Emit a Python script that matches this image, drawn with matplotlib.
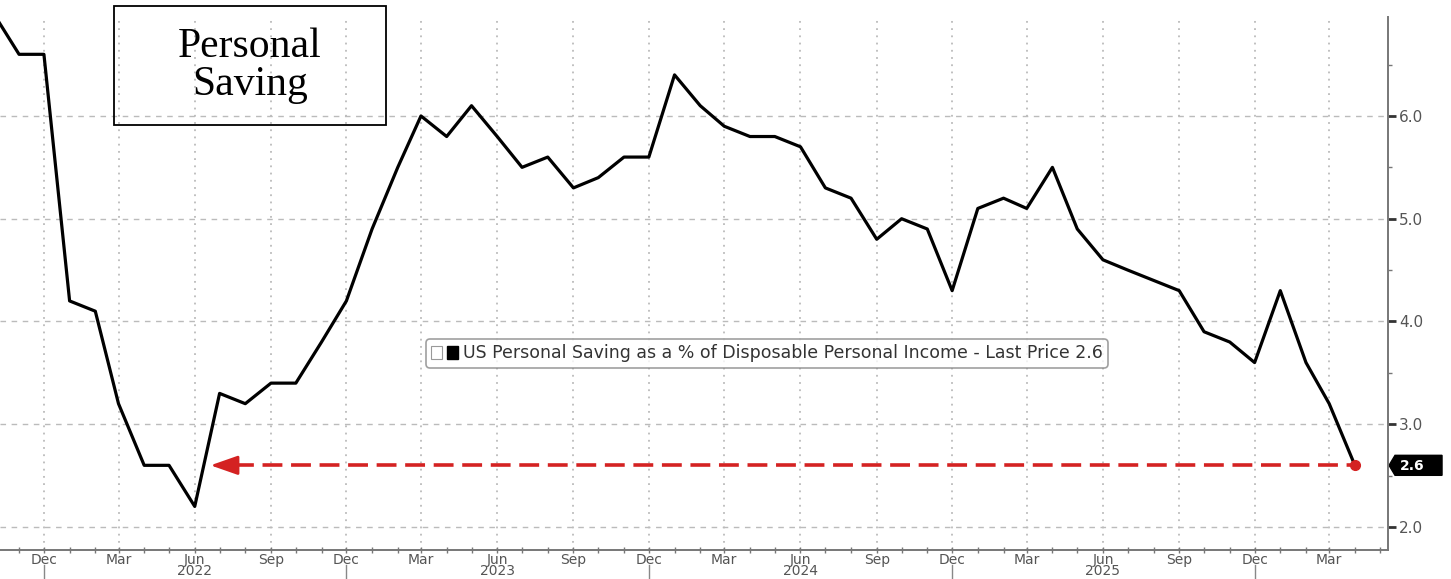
import matplotlib
matplotlib.use("Agg")
import matplotlib.pyplot as plt
import matplotlib.dates as mdates
import matplotlib.transforms as mtransforms
from matplotlib.patches import Rectangle, Patch, Polygon
from matplotlib.legend_handler import HandlerTuple
import pandas as pd

# US personal saving rate, % of disposable personal income, monthly Oct 2021 - Apr 2026
saving_rate = [
    7.0, 6.6, 6.6,
    4.2, 4.1, 3.2, 2.6, 2.6, 2.2, 3.3, 3.2, 3.4, 3.4, 3.8, 4.2,
    4.9, 5.5, 6.0, 5.8, 6.1, 5.8, 5.5, 5.6, 5.3, 5.4, 5.6, 5.6,
    6.4, 6.1, 5.9, 5.8, 5.8, 5.7, 5.3, 5.2, 4.8, 5.0, 4.9, 4.3,
    5.1, 5.2, 5.1, 5.5, 4.9, 4.6, 4.5, 4.4, 4.3, 3.9, 3.8, 3.6,
    4.3, 3.6, 3.2, 2.6,
]
months = pd.date_range("2021-10-01", periods=len(saving_rate), freq="MS")
last_price = saving_rate[-1]
arrow_tip = pd.Timestamp("2022-06-20")
legend_label = "US Personal Saving as a % of Disposable Personal Income - Last Price 2.6"
y_ticks = [2.0, 3.0, 4.0, 5.0, 6.0]

grey = "#555555"
red = "#d42222"

fig = plt.figure(figsize=(14.51, 5.79), dpi=100)
ax = fig.add_axes([0.0, 0.0501, 0.9566, 0.9205])

ax.plot(months, saving_rate, color="black", lw=2.3, zorder=4)

# dashed red line back to the Jun 2022 low, with arrow head and end dot
head_base = arrow_tip + pd.Timedelta(days=28)
ax.plot([head_base, months[-1]], [last_price, last_price], color=red, lw=2.6,
        dashes=(5.5, 2.4), zorder=5)
ax.annotate("", xy=(arrow_tip, last_price), xytext=(head_base, last_price),
            arrowprops=dict(arrowstyle="-|>,head_length=1.2,head_width=0.42",
                            color=red, lw=2.0, mutation_scale=14, shrinkA=0, shrinkB=0),
            zorder=5)
ax.plot([months[-1]], [last_price], "o", color=red, ms=7, zorder=6)

ax.set_xlim(pd.Timestamp("2021-10-09"), pd.Timestamp("2026-05-11"))
ax.set_ylim(1.776, 6.963)

# axes styling
for s in ["top", "left"]:
    ax.spines[s].set_visible(False)
for s in ["right", "bottom"]:
    ax.spines[s].set_color("#777777")
    ax.spines[s].set_linewidth(1.4)

ax.yaxis.tick_right()
ax.set_yticks(y_ticks)
ax.set_yticks([2.5, 3.5, 4.5, 5.5, 6.5], minor=True)
ax.yaxis.set_major_formatter(matplotlib.ticker.FormatStrFormatter("%.1f"))
ax.tick_params(axis="y", which="major", direction="out", length=6, width=2,
               color="#333333", labelsize=11, labelcolor=grey, pad=2)
ax.tick_params(axis="y", which="minor", direction="out", length=3, width=1, color="#777777")


def fmt_month(x, pos):
    d = mdates.num2date(x)
    lab = d.strftime("%b")
    if d.month == 6:
        lab += "\n" + str(d.year)
    return lab


ax.xaxis.set_major_locator(mdates.MonthLocator(bymonth=[3, 6, 9, 12]))
ax.xaxis.set_minor_locator(mdates.MonthLocator())
ax.xaxis.set_major_formatter(matplotlib.ticker.FuncFormatter(fmt_month))
ax.tick_params(axis="x", which="major", direction="inout", length=4, width=1,
               color="#777777", labelsize=10, labelcolor=grey, pad=0)
ax.tick_params(axis="x", which="minor", direction="inout", length=4, width=1, color="#777777")
fig.canvas.draw()
for lab in ax.get_xticklabels():
    lab.set_linespacing(0.72)

# separators under December
sep = mtransforms.blended_transform_factory(ax.transData, fig.transFigure)
for d in months:
    if d.month == 12:
        ax.plot([d, d], [1 - 565 / 579, 0], color="#888888", lw=1, transform=sep, clip_on=False)

ax.grid(axis="y", which="major", color="#bbbbbb", ls=(0, (4, 4)), lw=1)
ax.grid(axis="x", which="major", color="#bbbbbb", ls=(0, (1, 3)), lw=1.3)
ax.set_axisbelow(True)

# Bloomberg style last price tag
tag = mtransforms.blended_transform_factory(ax.transAxes, ax.transData)
tag_tr = fig.dpi_scale_trans + mtransforms.ScaledTranslation(1.0, last_price, tag)
ax.add_patch(Polygon([(0.01, 0.0), (0.07, 0.10), (0.54, 0.10), (0.54, -0.10), (0.07, -0.10)],
                     closed=True, fc="black", ec="black", transform=tag_tr, clip_on=False))
ax.text(0.245, -0.005, "2.6", transform=tag_tr, ha="center", va="center", color="white",
        fontsize=10, fontweight="bold", clip_on=False)

# legend
icon = Patch(facecolor="white", edgecolor="#999999", lw=0.8)
square = Patch(facecolor="black", edgecolor="black")
leg = ax.legend([(icon, square)], [legend_label], loc="center",
                bbox_to_anchor=(0.5526, 0.3687),
                handler_map={tuple: HandlerTuple(ndivide=None, pad=0.3)},
                handlelength=1.5, handleheight=0.75, handletextpad=0.3,
                fontsize=12.5, frameon=True, fancybox=True, borderpad=0.3)
leg.get_frame().set_edgecolor("#888888")
leg.get_frame().set_linewidth(1.2)
for t in leg.get_texts():
    t.set_color("#333333")

# title box
fig.patches.append(Rectangle((114 / 1451, 1 - 125 / 579), 272 / 1451, 119 / 579,
                             transform=fig.transFigure, fill=False,
                             edgecolor="black", lw=1.3, zorder=10))
fig.text(250 / 1451, 1 - 66 / 579, "Personal\nSaving", ha="center", va="center",
         fontsize=30, family="Liberation Serif", linespacing=1.0, zorder=11)

fig.savefig("out.png", dpi=100, facecolor="white")
